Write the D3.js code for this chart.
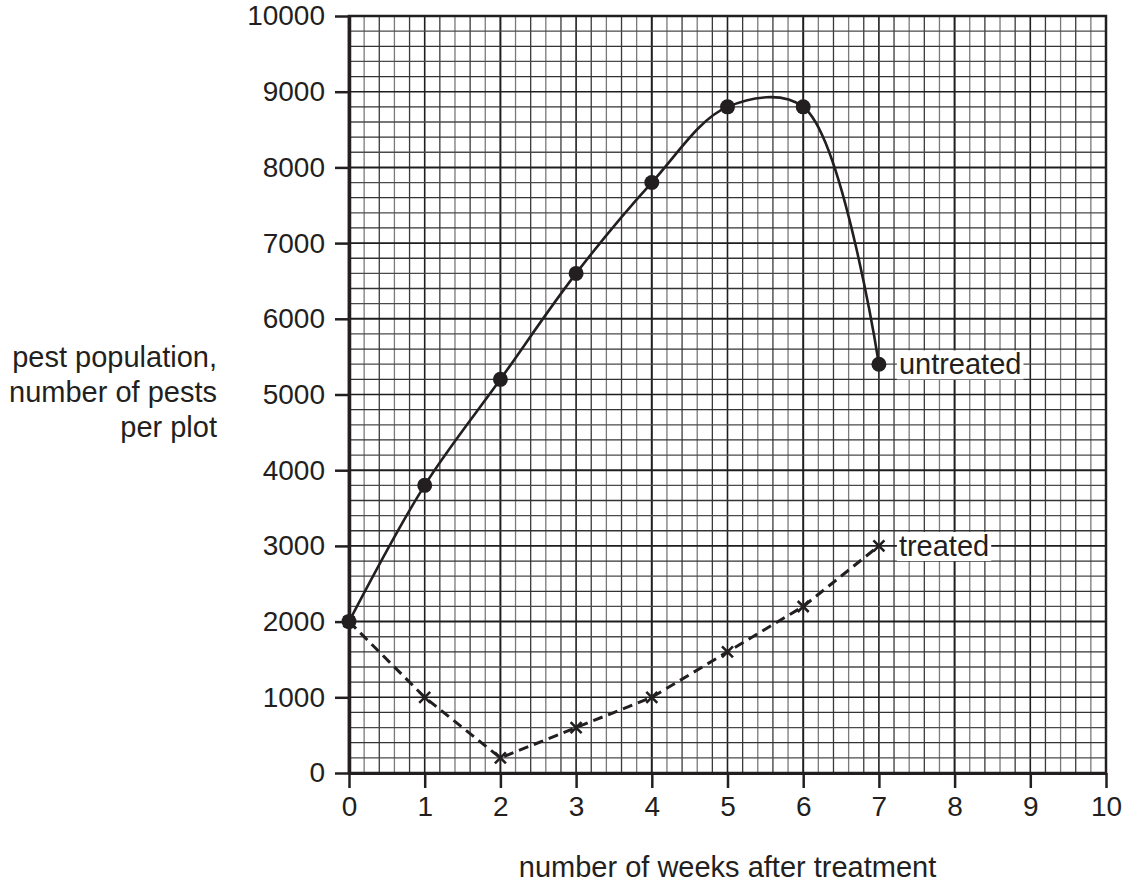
<!DOCTYPE html>
<html>
<head>
<meta charset="utf-8">
<script src="https://d3js.org/d3.v7.min.js"></script>
<style>
  body { margin: 0; background: #fff; }
  svg text { font-family: 'Liberation Sans', Arial, sans-serif; fill: #231f20; }
  .axis text { font-size: 28px; }
  .axis path, .axis line { stroke: #231f20; }
</style>
</head>
<body>
<svg id="chart" width="1127" height="885"></svg>
<script>
// data
const weeks = [0, 1, 2, 3, 4, 5, 6, 7];
const untreated = [2000, 3800, 5200, 6600, 7800, 8800, 8800, 5400];
const treated = [2000, 1000, 200, 600, 1000, 1600, 2200, 3000];
const xTicks = [0, 1, 2, 3, 4, 5, 6, 7, 8, 9, 10];
const yTicks = [0, 1000, 2000, 3000, 4000, 5000, 6000, 7000, 8000, 9000, 10000];
const yLabel = ["pest population,", "number of pests", "per plot"];
const xLabel = "number of weeks after treatment";

const ink = "#231f20";
const margin = { top: 16, right: 21, bottom: 112, left: 349 };
const width = 1127, height = 885;

const svg = d3.select("#chart");

const x = d3.scaleLinear().domain([0, 10]).range([margin.left, width - margin.right]);
const y = d3.scaleLinear().domain([0, 10000]).range([height - margin.bottom, margin.top]);

// graph paper: minor lines every 0.2 week / 200 pests
const grid = svg.append("g");
const minorX = d3.range(0, 50 + 1).map(i => i / 5);
const minorY = d3.range(0, 50 + 1).map(i => i * 200);

grid.selectAll(".vx")
  .data(minorX)
  .enter().append("line")
  .attr("x1", d => x(d)).attr("x2", d => x(d))
  .attr("y1", y(0)).attr("y2", y(10000))
  .attr("stroke", (d, i) => i % 5 === 0 ? "#1e1e1e" : (i % 2 ? "#7a7a7a" : "#3a3a3a"))
  .attr("stroke-width", (d, i) => i % 10 === 0 ? 2 : (i % 5 === 0 ? 1.6 : 1.3));

grid.selectAll(".hy")
  .data(minorY)
  .enter().append("line")
  .attr("y1", d => y(d)).attr("y2", d => y(d))
  .attr("x1", x(0)).attr("x2", x(10))
  .attr("stroke", (d, i) => i % 5 === 0 ? "#1e1e1e" : (i % 2 ? "#4a4a4a" : "#333"))
  .attr("stroke-width", (d, i) => i % 10 === 0 ? 2 : (i % 5 === 0 ? 1.6 : 1.3));

// frame
svg.append("rect")
  .attr("x", x(0)).attr("y", y(10000))
  .attr("width", x(10) - x(0)).attr("height", y(0) - y(10000))
  .attr("fill", "none").attr("stroke", ink).attr("stroke-width", 2.5);

// axes
const xAxis = svg.append("g")
  .attr("class", "axis")
  .attr("transform", `translate(0,${y(0)})`)
  .call(d3.axisBottom(x).tickValues(xTicks).tickFormat(d3.format("d"))
    .tickSize(15).tickSizeOuter(0).tickPadding(8));
xAxis.select(".domain").attr("stroke-width", 3);
xAxis.selectAll(".tick line").attr("stroke-width", 2.5);

const yAxis = svg.append("g")
  .attr("class", "axis")
  .attr("transform", `translate(${x(0)},0)`)
  .call(d3.axisLeft(y).tickValues(yTicks).tickFormat(d3.format("d"))
    .tickSize(14).tickSizeOuter(0).tickPadding(10));
yAxis.select(".domain").attr("stroke-width", 3.5);
yAxis.selectAll(".tick line").attr("stroke-width", 2.5);
svg.selectAll(".axis text").attr("font-family", null).attr("font-size", null);

const pointsU = weeks.map((w, i) => [w, untreated[i]]);
const pointsT = weeks.map((w, i) => [w, treated[i]]);

// untreated: smooth solid curve
svg.append("path")
  .datum(pointsU)
  .attr("fill", "none")
  .attr("stroke", ink)
  .attr("stroke-width", 2.6)
  .attr("d", d3.line().x(d => x(d[0])).y(d => y(d[1])).curve(d3.curveCatmullRom.alpha(0.5)));

// treated: dashed straight segments
svg.append("path")
  .datum(pointsT)
  .attr("fill", "none")
  .attr("stroke", ink)
  .attr("stroke-width", 3)
  .attr("stroke-dasharray", "10,6")
  .attr("d", d3.line().x(d => x(d[0])).y(d => y(d[1])));

svg.selectAll(".dot")
  .data(pointsU)
  .enter().append("circle")
  .attr("cx", d => x(d[0]))
  .attr("cy", d => y(d[1]))
  .attr("r", 7.5)
  .attr("fill", ink);

const cross = 5.5;
svg.selectAll(".cross")
  .data(pointsT)
  .enter().append("path")
  .attr("d", d => {
    const cx = x(d[0]), cy = y(d[1]);
    return `M${cx - cross},${cy - cross}L${cx + cross},${cy + cross}M${cx - cross},${cy + cross}L${cx + cross},${cy - cross}`;
  })
  .attr("stroke", ink)
  .attr("stroke-width", 2.6);

// series labels with white backing
function seriesLabel(text, w, v) {
  const g = svg.append("g");
  const t = g.append("text")
    .attr("x", x(w) + 20)
    .attr("y", y(v))
    .attr("dy", "0.35em")
    .attr("font-size", 29)
    .text(text);
  const b = t.node().getBBox();
  g.insert("rect", "text")
    .attr("x", b.x - 2).attr("y", b.y + 2)
    .attr("width", b.width + 4).attr("height", b.height - 3)
    .attr("fill", "#fff");
}
seriesLabel("untreated", 7, untreated[7]);
seriesLabel("treated", 7, treated[7]);

// axis titles
svg.append("text")
  .attr("text-anchor", "end")
  .attr("font-size", 29)
  .selectAll("tspan")
  .data(yLabel)
  .enter().append("tspan")
  .attr("x", 217)
  .attr("y", (d, i) => 367 + i * 35)
  .text(d => d);

svg.append("text")
  .attr("x", x(5))
  .attr("y", 877)
  .attr("text-anchor", "middle")
  .attr("font-size", 29)
  .text(xLabel);
</script>
</body>
</html>
